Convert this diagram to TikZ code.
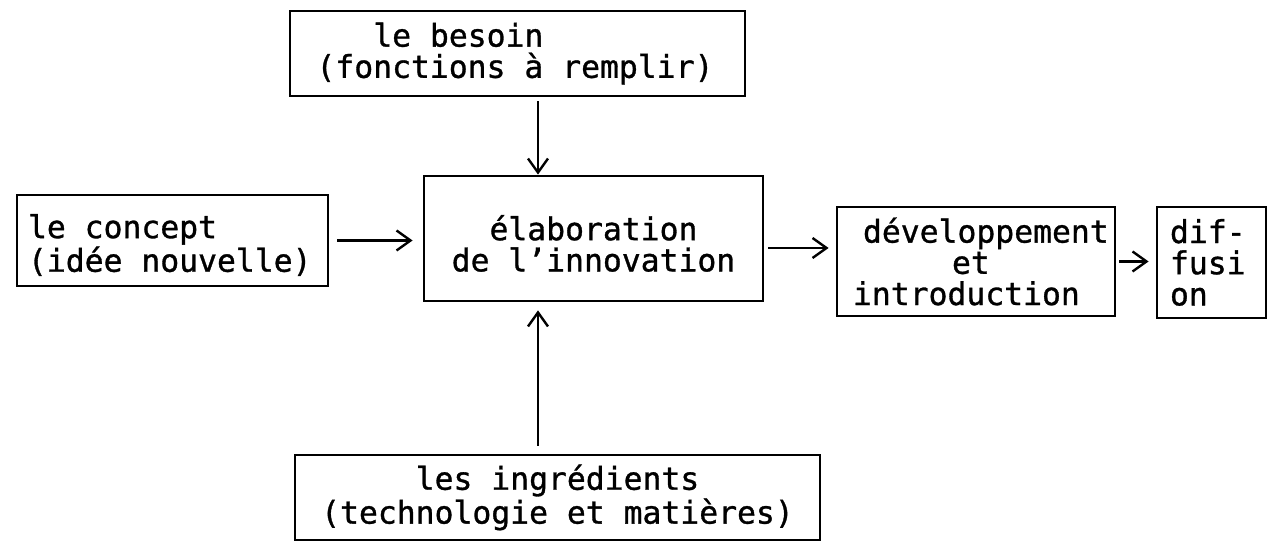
\documentclass[tikz,border=0pt]{standalone}
\usepackage{fontspec}
\newfontfamily\twfont[FakeBold=1]{DejaVu Sans Mono}
\newcommand\sk{\hspace{0.602em}}
\usetikzlibrary{arrows.meta}
\begin{document}
\begin{tikzpicture}[x=0.5pt,y=-0.5pt,
  box/.style={draw, line width=1.4pt, inner ysep=0pt,
    font={\twfont\fontsize{15.7}{15.6}\selectfont}},
  arr/.style={line width=1.2pt, -{Straight Barb[length=7pt,width=10pt]}}]
\fill[white] (0,0) rectangle (1271,544);
\useasboundingbox (0,0) rectangle (1271,544);

\node[box, minimum width=227.5pt, minimum height=42.5pt, text width=201pt,
  inner xsep=13.25pt, align=left] (besoin) at (517.5,53.5)
  {\mbox{\hspace*{28.4pt}le\sk besoin}\\\mbox{(fonctions\sk à\sk remplir)}};

\node[box, minimum width=169.5pt, minimum height=62.5pt, align=center]
  (elab) at (593.5,238.5) {\rule{0pt}{17.5pt}élaboration\\de\sk l’innovation};

\node[box, minimum width=155.5pt, minimum height=45.5pt, text width=144.5pt,
  inner xsep=5.5pt, align=left] (concept) at (172.5,240.5)
  {\mbox{\rule{0pt}{16.5pt}le\sk concept}\\\mbox{(idée\sk nouvelle)}};

\node[box, minimum width=139pt, minimum height=54.5pt, text width=123pt,
  inner xsep=8pt, align=left] (dev) at (976,261.5)
  {\mbox{\hspace*{5pt}développement}\\\mbox{\hspace*{49.5pt}et}\\\mbox{introduction}};

\node[box, minimum width=54.5pt, minimum height=55.5pt, text width=41.5pt,
  inner xsep=6.5pt, align=left] (diff) at (1211.5,262.5)
  {\mbox{dif-}\\\mbox{fusi}\\\mbox{on}};

\node[box, minimum width=262.5pt, minimum height=42.5pt, align=center]
  (ingr) at (557.5,497.5) {les\sk ingrédients\\(technologie\sk et\sk matières)};

\coordinate (vx) at (538,0);
\coordinate (hy) at (0,248);

\draw[arr, shorten <=2pt] (besoin.south -| vx) -- (elab.north -| vx);
\draw[arr, shorten <=4pt, shorten >=4pt] (ingr.north -| vx) -- (elab.south -| vx);
\draw[arr, shorten <=4pt, shorten >=5pt] (concept.east) -- (concept.east -| elab.west);
\draw[arr, shorten <=2pt, shorten >=3.5pt] (elab.east |- hy) -- (dev.west |- hy);
\draw[arr, shorten <=1.5pt, shorten >=3.5pt] (dev.east) -- (dev.east -| diff.west);
\end{tikzpicture}
\end{document}
